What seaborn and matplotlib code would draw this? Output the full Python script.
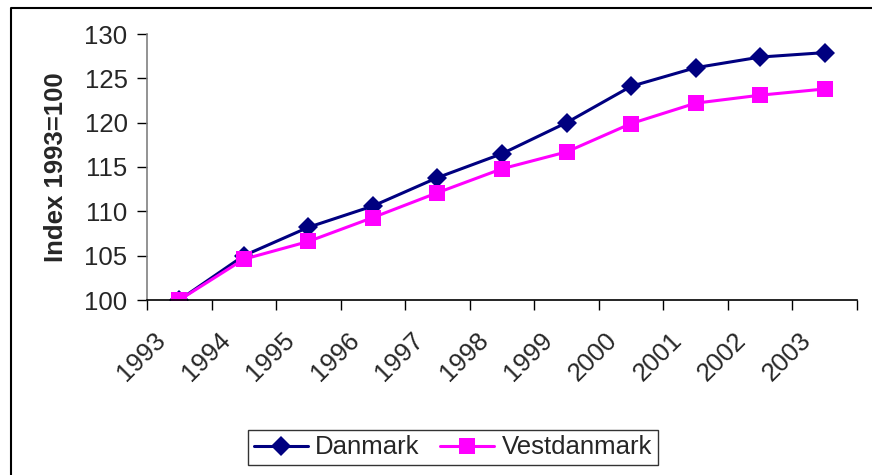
import numpy as np
import pandas as pd
import seaborn as sns
import matplotlib.pyplot as plt
from matplotlib.lines import Line2D
import matplotlib.transforms as mtransforms

# data
years = ["1993", "1994", "1995", "1996", "1997", "1998", "1999", "2000", "2001", "2002", "2003"]
danmark = [100, 105.0, 108.2, 110.6, 113.8, 116.5, 120.0, 124.1, 126.2, 127.4, 127.9]
vestdanmark = [100, 104.6, 106.6, 109.3, 112.1, 114.8, 116.7, 119.9, 122.2, 123.1, 123.8]
series = ["Danmark", "Vestdanmark"]
colors = {"Danmark": "#000080", "Vestdanmark": "#FF00FF"}
markers = {"Danmark": "D", "Vestdanmark": "s"}

df = pd.DataFrame({
    "pos": list(range(len(years))) * 2,
    "value": danmark + vestdanmark,
    "serie": ["Danmark"] * len(years) + ["Vestdanmark"] * len(years),
})

sns.set_theme(style="white")
plt.rcParams["font.family"] = ["Liberation Sans", "DejaVu Sans"]

fig = plt.figure(figsize=(8.72, 4.75), dpi=100)
ax = fig.add_axes([147/872, 1-300/475, (857-147)/872, (300-34)/475])

for s in series:
    sub = df[df["serie"] == s]
    sns.lineplot(data=sub, x="pos", y="value", ax=ax, color=colors[s],
                 marker=markers[s], markersize=10.5 if s == "Danmark" else 11,
                 markeredgewidth=0, linewidth=2.2, label=s)

ax.set_xlim(-0.5, len(years) - 0.5)
ax.set_ylim(100, 130)
ax.set_yticks(np.arange(100, 131, 5))
ax.tick_params(axis="y", labelsize=18.5, length=7, width=1, color="black", pad=7, left=True)

# category boundaries as major ticks, labels on minor ticks at centers
ax.set_xticks(np.arange(-0.5, len(years), 1))
ax.set_xticklabels([])
ax.set_xticks(range(len(years)), minor=True)
ax.set_xticklabels(years, minor=True, rotation=45, ha="right", va="top", fontsize=18.5)
ax.tick_params(axis="x", which="major", length=7, width=1, color="black", bottom=True)
ax.tick_params(axis="x", which="minor", length=0, pad=20)
offset = mtransforms.ScaledTranslation(-9/100, 0, fig.dpi_scale_trans)
for lab in ax.get_xticklabels(minor=True):
    lab.set_transform(lab.get_transform() + offset)

ax.set_xlabel("")
ax.set_ylabel("Index 1993=100", fontsize=18.5, fontweight="bold", labelpad=12)

for side in ["top", "right"]:
    ax.spines[side].set_visible(False)
ax.spines["left"].set_color("#808080")
ax.spines["left"].set_linewidth(1.2)
ax.spines["bottom"].set_color("black")
ax.spines["bottom"].set_linewidth(1.2)

ax.get_legend().remove()
handles, labels = ax.get_legend_handles_labels()
leg = fig.legend(handles, labels, loc="center", bbox_to_anchor=(453/872, 1-447.5/475),
                 ncol=2, fontsize=18.5, frameon=True, fancybox=False, edgecolor="black",
                 handlelength=2.1, handletextpad=0.3, columnspacing=0.8, borderpad=0.2)
leg.get_frame().set_linewidth(1)

# outer chart border (top and left visible)
fig.add_artist(Line2D([11/872, 11/872, 1.0], [0.0, 1-8/475, 1-8/475],
                      transform=fig.transFigure, color="black", linewidth=1.5))

fig.savefig("out.png", dpi=100)
